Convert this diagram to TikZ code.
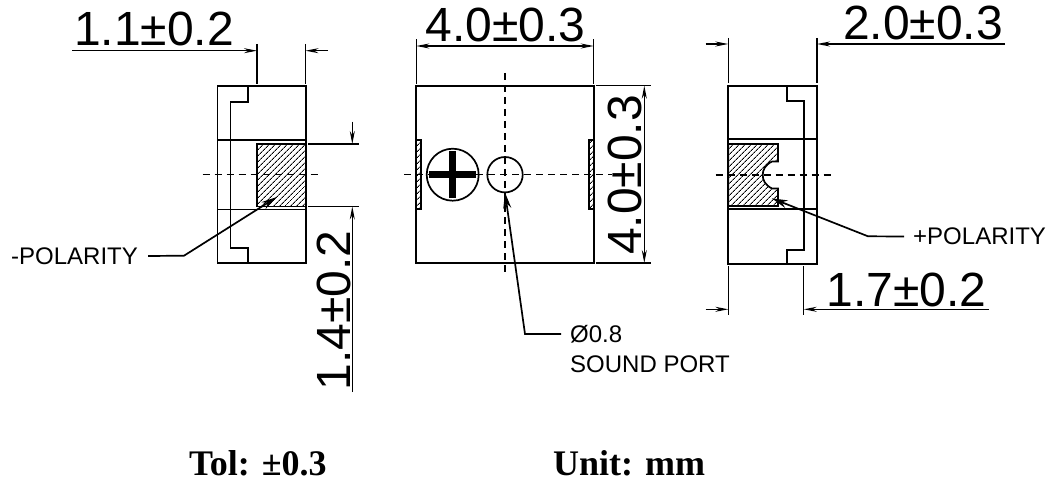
\documentclass[tikz,border=0pt]{standalone}
\usepackage{fontspec}
\setmainfont{Liberation Sans}
\newfontfamily\tolfont{Liberation Serif}
\usetikzlibrary{arrows.meta,patterns.meta}
\tikzset{
    outline/.style={line width=1.7pt},
    dimline/.style={line width=1.4pt},
    centerline/.style={line width=1.4pt,dash pattern=on 7pt off 5pt},
    hatched/.style={pattern={Lines[angle=45,distance=4pt,line width=0.9pt]}},
    dimtext/.style={font=\fontsize{48}{48}\selectfont,inner sep=0pt},
    notetext/.style={font=\fontsize{24}{24}\selectfont,inner sep=0pt,anchor=west},
    toltext/.style={font=\tolfont\bfseries\fontsize{36}{36}\selectfont,inner sep=0pt},
    dimtip/.style={-{Stealth[length=13pt,width=5pt]}},
    bothtip/.style={{Stealth[length=13pt,width=5pt]}-{Stealth[length=13pt,width=5pt]}},
    leadtip/.style={-{Stealth[length=16pt,width=8pt]}}
}

\begin{document}
\begin{tikzpicture}[x=1pt,y=-1pt]
    \useasboundingbox (0,0) rectangle (1054,481);

    % left view
    \draw[outline] (217.5,86) rectangle (306,263);
    \draw[outline] (247.7,86) -- (247.7,102) -- (230.5,102) -- (230.5,248) -- (247.7,248) -- (247.7,263);
    \draw[outline] (217.5,140) -- (306,140);
    \draw[outline] (217.5,209.5) -- (306,209.5);
    \draw[outline,hatched] (257,144) rectangle (306,206.5);
    \draw[centerline] (202.7,174.7) -- (319,174.7);

    \coordinate (lefttopa) at (257,50.7);
    \coordinate (lefttopb) at (305.5,50.7);
    \draw[dimline] (257,44) -- (257,84);
    \draw[dimline] (305.5,44) -- (305.5,84);
    \draw[dimline,dimtip] (72,50.7) -- (lefttopa);
    \draw[dimline,dimtip] (328,50.7) -- (lefttopb);
    \node[dimtext,anchor=base] (lefttoptext) at (154,46) {1.1±0.2};

    \coordinate (leftsidea) at (352.3,144);
    \coordinate (leftsideb) at (352.3,206.5);
    \draw[dimline] (308,144) -- (358.7,144);
    \draw[dimline] (308,206.5) -- (358.7,206.5);
    \draw[dimline,dimtip] (352.3,121.7) -- (leftsidea);
    \draw[dimline,dimtip] (352.3,392) -- (leftsideb);
    \node[dimtext,rotate=90,anchor=base] (leftsidetext) at (350,310.5) {1.4±0.2};

    \node[notetext] (negtext) at (11,256) {-POLARITY};
    \coordinate (negtip) at (277,197);
    \draw[outline,leadtip] (negtext.east) ++(10,0) -- (184,255.7) -- (negtip);

    % middle view
    \draw[outline] (416.3,140) -- (416.3,85.7) -- (593.7,85.7) -- (593.7,140);
    \draw[outline] (416.3,209.3) -- (416.3,263) -- (593.7,263) -- (593.7,209.3);
    \draw[outline,hatched] (416.3,140) rectangle (421,209.3);
    \draw[outline,hatched] (589,140) rectangle (593.7,209.3);
    \draw[outline] (452.7,174.7) circle (26);
    \fill (429,171.2) rectangle (476,178.2);
    \fill (449.2,150.7) rectangle (456.2,198);
    \draw[outline] (505,174.7) circle (17.7);
    \draw[centerline] (404,174.7) -- (612,174.7);
    \draw[centerline] (505,73) -- (505,276);

    \coordinate (midtopa) at (416.3,46);
    \coordinate (midtopb) at (593.7,46);
    \draw[dimline] (416.3,39.3) -- (416.3,84);
    \draw[dimline] (593.7,39.3) -- (593.7,84);
    \draw[dimline,bothtip] (midtopa) -- (midtopb);
    \node[dimtext,anchor=base] (midtoptext) at (505.5,41.7) {4.0±0.3};

    \coordinate (midsidea) at (644.3,85.7);
    \coordinate (midsideb) at (644.3,263);
    \draw[dimline] (595.7,85.7) -- (650.7,85.7);
    \draw[dimline] (595.7,263) -- (650.7,263);
    \draw[dimline,bothtip] (midsidea) -- (midsideb);
    \node[dimtext,rotate=90,anchor=base] (midsidetext) at (641,175) {4.0±0.3};

    \node[notetext] (porttext) at (570,334) {Ø0.8};
    \node[notetext] (soundtext) at (570,364) {SOUND PORT};
    \coordinate (porttip) at (505,192.5);
    \draw[outline,leadtip] (porttext.west) ++(-9,0) -- (525,334) -- (porttip);

    % right view
    \draw[outline] (728.3,86) rectangle (817,263.7);
    \draw[outline] (786.7,86) -- (786.7,100.7) -- (803.7,100.7) -- (803.7,250) -- (786.7,250) -- (786.7,263.7);
    \draw[outline] (728.3,139.3) -- (817,139.3);
    \draw[outline] (728.3,209.3) -- (817,209.3);
    \draw[outline,hatched] (728.3,144) -- (778,144) -- (778,161.5) -- (772,161.5)
        .. controls (765,165) and (762.7,170) .. (762.7,175)
        .. controls (762.7,180) and (765,185) .. (772,188.5)
        -- (778,188.5) -- (778,206) -- (728.3,206) -- cycle;
    \draw[centerline] (715.7,175) -- (832,175);

    \coordinate (righttopa) at (728.3,44);
    \coordinate (righttopb) at (817,44);
    \draw[dimline] (728.3,38) -- (728.3,83);
    \draw[dimline] (817,38) -- (817,83);
    \draw[dimline,dimtip] (705.7,44) -- (righttopa);
    \draw[dimline,dimtip] (1005,44) -- (righttopb);
    \node[dimtext,anchor=base] (righttoptext) at (923,40) {2.0±0.3};

    \coordinate (rightbota) at (728.3,309.3);
    \coordinate (rightbotb) at (803.7,309.3);
    \draw[dimline] (728.3,266) -- (728.3,315);
    \draw[dimline] (803.7,266) -- (803.7,315);
    \draw[dimline,dimtip] (705.7,309.3) -- (rightbota);
    \draw[dimline,dimtip] (989,309.3) -- (rightbotb);
    \node[dimtext,anchor=base] (rightbottext) at (906.5,306) {1.7±0.2};

    \node[notetext] (postext) at (913,236.5) {+POLARITY};
    \coordinate (postip) at (771.7,198.3);
    \draw[outline,leadtip] (postext.west) ++(-9,0) -- (868,236.3) -- (postip);

    % bottom notes
    \node[toltext,anchor=base west] (toltext) at (189,475) {Tol: ±0.3};
    \node[toltext,anchor=base west] (unittext) at (553,475) {Unit: mm};
\end{tikzpicture}
\end{document}
